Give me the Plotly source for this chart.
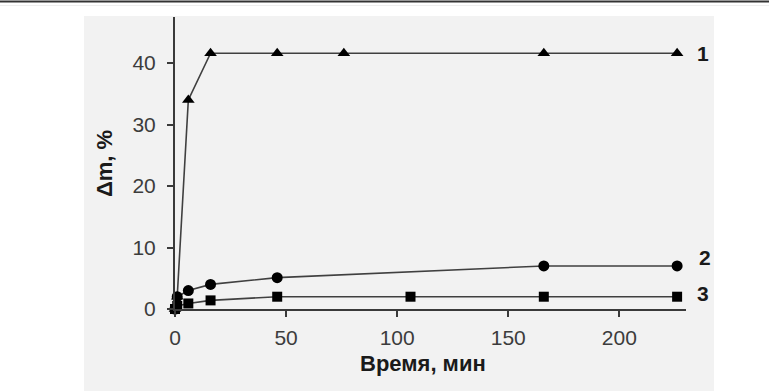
import plotly.graph_objects as go

# ---- data ----
t1 = [0, 1, 6, 16, 46, 76, 166, 226]
dm1 = [0, 2.0, 34.0, 41.6, 41.6, 41.6, 41.6, 41.6]
t2 = [0, 1, 6, 16, 46, 166, 226]
dm2 = [0, 2.0, 3.0, 4.0, 5.1, 7.0, 7.0]
t3 = [0, 1, 6, 16, 46, 106, 166, 226]
dm3 = [0, 0.5, 0.9, 1.4, 2.0, 2.0, 2.0, 2.0]
series_labels = ["1", "2", "3"]
x_title = "Время, мин"
y_title = "Δm, %"

W, H = 769, 391
ML, MR, MT, MB = 175, 83, 17, 82
PW, PH = W - ML - MR, H - MT - MB

def px2paper(px, py):
    return (px - ML) / PW, (H - MB - py) / PH

line_col = "#3a3a3a"
FONT = "Liberation Sans, Arial"
fig = go.Figure()
for x, y, sym in [(t1, dm1, "triangle-up"), (t2, dm2, "circle"), (t3, dm3, "square")]:
    fig.add_trace(go.Scatter(
        x=x, y=y, mode="lines+markers", cliponaxis=False,
        line=dict(color="#404040", width=1.6),
        marker=dict(symbol=sym, size=11 if sym != "square" else 10, color="black"),
        showlegend=False))

shapes = []
x0, y0 = px2paper(84, 16)
x1, y1 = px2paper(714, 391)
shapes.append(dict(type="rect", xref="paper", yref="paper", x0=x0, x1=x1, y0=y1, y1=y0,
                   fillcolor="#f2f2f2", line=dict(width=0), layer="below"))
a0, b0 = px2paper(0, 0.5)
a1, b1 = px2paper(W, 2.5)
shapes.append(dict(type="rect", xref="paper", yref="paper", x0=a0, x1=a1, y0=b1, y1=b0,
                   fillcolor="#333333", line=dict(width=0), layer="below"))
c0, d0 = px2paper(0, 5)
c1, d1 = px2paper(W, 6)
shapes.append(dict(type="rect", xref="paper", yref="paper", x0=c0, x1=c1, y0=d1, y1=d0,
                   fillcolor="#eeeeee", line=dict(width=0), layer="below"))

annotations = []
lab_px = [(703, 53), (705, 257), (703, 293)]
for lab, (lx, ly) in zip(series_labels, lab_px):
    ax_, ay_ = px2paper(lx, ly)
    annotations.append(dict(x=ax_, y=ay_, xref="paper", yref="paper", text="<b>" + lab + "</b>",
                            showarrow=False,
                            font=dict(size=21, color="#1a1a1a", family=FONT),
                            xanchor="center", yanchor="middle"))
tx, ty = px2paper(423, 363)
annotations.append(dict(x=tx, y=ty, xref="paper", yref="paper", text="<b>" + x_title + "</b>",
                        showarrow=False, xanchor="center", yanchor="middle",
                        font=dict(size=22, color="#1a1a1a", family=FONT)))
ux, uy = px2paper(104, 164)
annotations.append(dict(x=ux, y=uy, xref="paper", yref="paper", text="<b>" + y_title + "</b>",
                        showarrow=False, xanchor="center", yanchor="middle", textangle=-90,
                        font=dict(size=22, color="#1a1a1a", family=FONT)))

axis_common = dict(showline=True, linecolor=line_col, linewidth=2, ticks="outside",
                   tickcolor=line_col, tickwidth=1.5, showgrid=False, zeroline=False,
                   tickfont=dict(size=21, color="#3c3c3c", family=FONT))
fig.update_layout(
    width=W, height=H, margin=dict(l=ML, r=MR, t=MT, b=MB),
    paper_bgcolor="white", plot_bgcolor="rgba(0,0,0,0)",
    xaxis=dict(range=[0, 230], tickvals=[0, 50, 100, 150, 200], ticklen=6,
               ticklabelstandoff=3, **axis_common),
    yaxis=dict(range=[0, 47.5], tickvals=[0, 10, 20, 30, 40], ticklen=6,
               ticklabelstandoff=7, **axis_common),
    shapes=shapes, annotations=annotations,
)
fig.write_html("out.html", config={"displayModeBar": False},
               post_script="document.body.style.margin='0px';")
